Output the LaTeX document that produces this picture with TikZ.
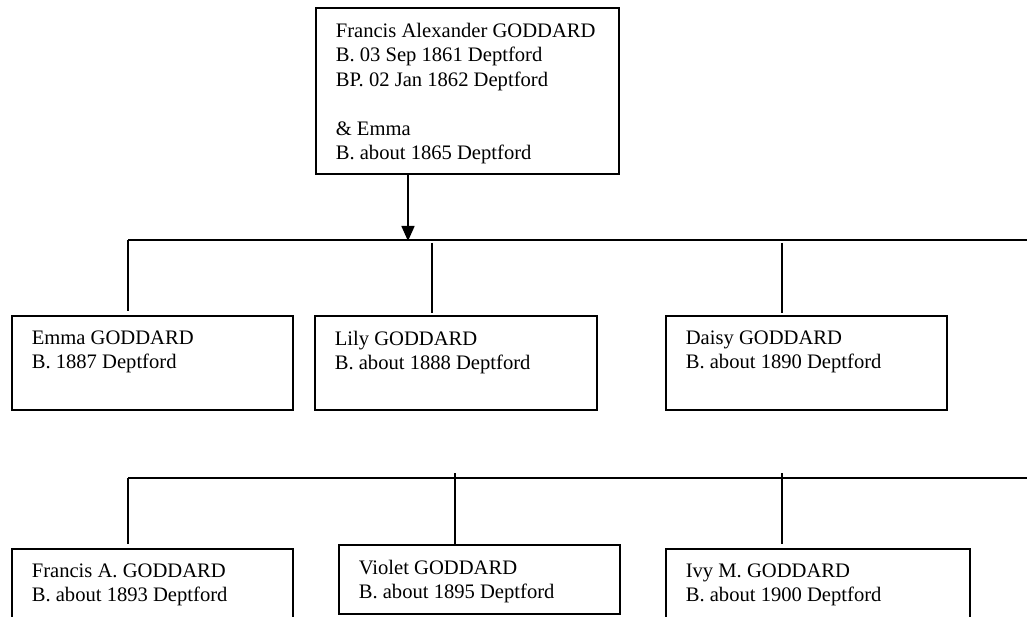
\documentclass[tikz,border=0pt]{standalone}
\usepackage{fontspec}
\setmainfont{Liberation Serif}
\usetikzlibrary{arrows.meta}
\begin{document}
\begin{tikzpicture}[x=1pt,y=-1pt,line width=1.6pt,
  person/.style={draw,rectangle,inner sep=0pt,anchor=north west,line width=1.6pt},
  txt/.style={anchor=north west,inner sep=0pt,align=left,font=\fontsize{20.6}{24.5}\selectfont},
  link/.style={line width=1.6pt},
  down/.style={link,-{Triangle[length=15pt,width=13pt]}}]
\useasboundingbox (0,0) rectangle (1027,617);
\clip (0,0) rectangle (1027,617);
% parents
\node[person,minimum width=303pt,minimum height=166pt] (par) at (315,7) {};
\node[txt] (part) at (335,22) {Francis Alexander GODDARD\\B. 03 Sep 1861 Deptford\\BP. 02 Jan 1862 Deptford\\\mbox{}\\\& Emma\\B. about 1865 Deptford};
% first row
\node[person,minimum width=281pt,minimum height=94pt] (emma) at (11,315) {};
\node[txt] (emmat) at (31,330) {Emma GODDARD\\B. 1887 Deptford};
\node[person,minimum width=282pt,minimum height=94pt] (lily) at (314,315) {};
\node[txt] (lilyt) at (334,330) {Lily GODDARD\\B. about 1888 Deptford};
\node[person,minimum width=281pt,minimum height=94pt] (daisy) at (665,315) {};
\node[txt] (daisyt) at (685,330) {Daisy GODDARD\\B. about 1890 Deptford};
% second row
\node[person,minimum width=281pt,minimum height=94pt] (fra) at (11,548) {};
\node[txt] (frat) at (31,563) {Francis A. GODDARD\\B. about 1893 Deptford};
\node[person,minimum width=281pt,minimum height=69pt] (vio) at (338,544) {};
\node[txt] (viot) at (358,559) {Violet GODDARD\\B. about 1895 Deptford};
\node[person,minimum width=304pt,minimum height=94pt] (ivy) at (665,548) {};
\node[txt] (ivyt) at (685,563) {Ivy M. GODDARD\\B. about 1900 Deptford};
% connectors
\coordinate (b1l) at (128,240);
\coordinate (b1r) at (1027,240);
\coordinate (arr) at (408,241);
\coordinate (l1) at (432,243);
\coordinate (d1) at (782,243);
\coordinate (b2l) at (128,478);
\coordinate (b2r) at (1027,478);
\coordinate (v1) at (455,473);
\coordinate (i1) at (782,473);
\draw[link] (b1l) -- (b1r);
\draw[down] (arr |- par.south) -- (arr);
\draw[link,shorten >=4pt] (b1l) -- (b1l |- emma.north);
\draw[link,shorten >=2pt] (l1) -- (l1 |- lily.north);
\draw[link,shorten >=2pt] (d1) -- (d1 |- daisy.north);
\draw[link] (b2l) -- (b2r);
\draw[link,shorten >=4pt] (b2l) -- (b2l |- fra.north);
\draw[link] (v1) -- (v1 |- vio.north);
\draw[link,shorten >=4pt] (i1) -- (i1 |- ivy.north);
\end{tikzpicture}
\end{document}
